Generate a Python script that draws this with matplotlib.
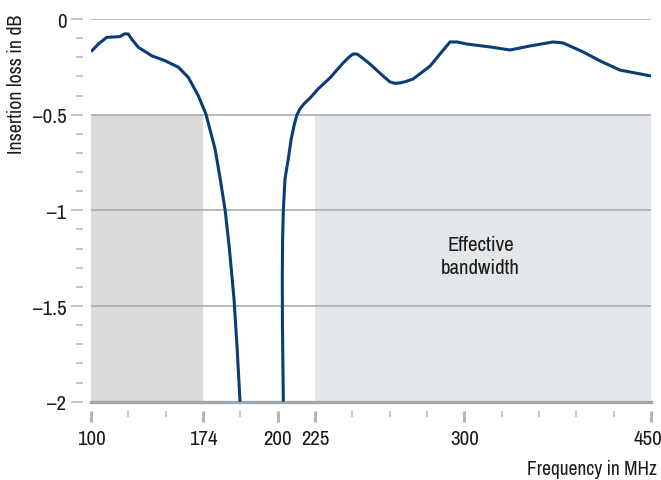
import matplotlib
matplotlib.use("Agg")
import matplotlib.pyplot as plt
import matplotlib.transforms as mtransforms
import numpy as np

plt.rcParams['font.family'] = ['Archivo Narrow', 'Roboto Condensed', 'DejaVu Sans']

# axis: tick values sit on an evenly spaced (non-linear) scale
tick_freqs = [100, 174, 200, 225, 300, 450]
tick_slots = [0, 3, 5, 6, 10, 15]
y_major = [0, -0.5, -1, -1.5, -2]
y_labels = ['0', '\u20130.5', '\u20131', '\u20131.5', '\u20132']

# insertion loss curve (MHz, dB)
freq_low = [100, 104.8, 110.4, 119.2, 122.0, 124.6, 126.9, 131.3, 140.1, 148.9, 157.7,
            164.3, 170.9, 175.0, 178.2, 180.0, 181.7, 183.2, 184.8, 185.9, 186.9]
loss_low = [-0.171, -0.131, -0.096, -0.092, -0.078, -0.078, -0.105, -0.148, -0.192,
            -0.218, -0.252, -0.305, -0.401, -0.496, -0.679, -0.836, -0.998, -1.202,
            -1.463, -1.725, -2.0]
freq_high = [203.8, 203.2, 203.1, 203.3, 203.8, 204.9, 207.1, 209.0, 211.2, 212.9, 214.9,
             218.0, 221.7, 226.5, 232.5, 239.1, 242.0, 244.1, 246.1, 249.0, 252.6, 259.2,
             262.7, 265.0, 267.7, 270.5, 274.2, 282.8, 288.0, 292.8, 296.3, 302.2,
             320.6, 336.7, 352.8, 371.3, 379.3, 395.4, 410.0, 425.1, 433.2, 450]
loss_high = [-2.0, -1.6, -1.35, -1.15, -0.998, -0.836, -0.732, -0.630, -0.549, -0.502,
             -0.470, -0.440, -0.413, -0.366, -0.308, -0.230, -0.200, -0.183, -0.183,
             -0.205, -0.235, -0.298, -0.329, -0.336, -0.334, -0.327, -0.314, -0.246,
             -0.180, -0.120, -0.120, -0.131, -0.146, -0.162, -0.141, -0.120, -0.125,
             -0.172, -0.222, -0.267, -0.277, -0.298]

# shaded bands (MHz)
band_dark = (100, 174)
band_light = (225, 450)
band_loss = (-2, -0.5)


def slot(f):
    return np.interp(f, tick_freqs, tick_slots)


fig = plt.figure(figsize=(6.61, 4.81), dpi=100)
ax = fig.add_axes([91 / 661, 1 - 402.7 / 481, 560 / 661, 382.7 / 481])

ax.fill_between([slot(band_dark[0]), slot(band_dark[1])], band_loss[0], band_loss[1],
                color='#d9dada', lw=0, zorder=1)
ax.fill_between([slot(band_light[0]), slot(band_light[1])], band_loss[0], band_loss[1],
                color='#e4e7e9', lw=0, zorder=1)

for yv in y_major[:-1]:
    ax.axhline(yv, color='#a9adb1', lw=1.2, zorder=2)
ax.axhline(-2, color='#a0a5aa', lw=2.4, zorder=2, clip_on=False)

blue = '#0b3d75'
ax.plot(slot(np.array(freq_low)), loss_low, color=blue, lw=2.2, zorder=3,
        solid_joinstyle='round', solid_capstyle='butt')
ax.plot(slot(np.array(freq_high)), loss_high, color=blue, lw=2.2, zorder=3,
        solid_joinstyle='round', solid_capstyle='butt')

ax.text(10.43, -1.24, 'Effective\nbandwidth', ha='center', va='center',
        fontsize=15, linespacing=1.25, color='#1a1a1a')

ax.set_xlim(0, 15)
ax.set_ylim(-2, 0)

for s in ax.spines.values():
    s.set_visible(False)
ax.spines['left'].set_position(('outward', 6.1))
ax.spines['bottom'].set_position(('outward', 6.8))

ax.set_xticks(tick_slots)
ax.set_xticklabels([str(t) for t in tick_freqs])
ax.set_xticks([i for i in range(16) if i not in tick_slots], minor=True)
ax.set_yticks(y_major)
ax.set_yticklabels(y_labels)
ax.set_yticks(np.arange(-1.9, 0, 0.1), minor=True)

tc = '#b3b7bb'
ax.tick_params(axis='x', which='major', length=8, width=2.2, color=tc, pad=5,
               labelsize=15, labelcolor='#1a1a1a')
ax.tick_params(axis='x', which='minor', length=4.2, width=1.1, color=tc)
ax.tick_params(axis='y', which='major', length=8.6, width=1.1, color=tc, pad=3,
               labelsize=15, labelcolor='#1a1a1a')
ax.tick_params(axis='y', which='minor', length=5, width=1.1, color=tc)

# last x label sits a little left so it stays inside the picture
last = ax.get_xticklabels()[-1]
last.set_transform(last.get_transform() +
                   mtransforms.ScaledTranslation(-3 / 100, 0, fig.dpi_scale_trans))

fig.text(17 / 661, 1 - 84 / 481, 'Insertion loss in dB', rotation=90, ha='center',
         va='center', fontsize=14.3, color='#1a1a1a')
fig.text(657 / 661, 1 - 470 / 481, 'Frequency in MHz', ha='right', va='center',
         fontsize=14, color='#1a1a1a')

fig.savefig('out.png', dpi=100)
